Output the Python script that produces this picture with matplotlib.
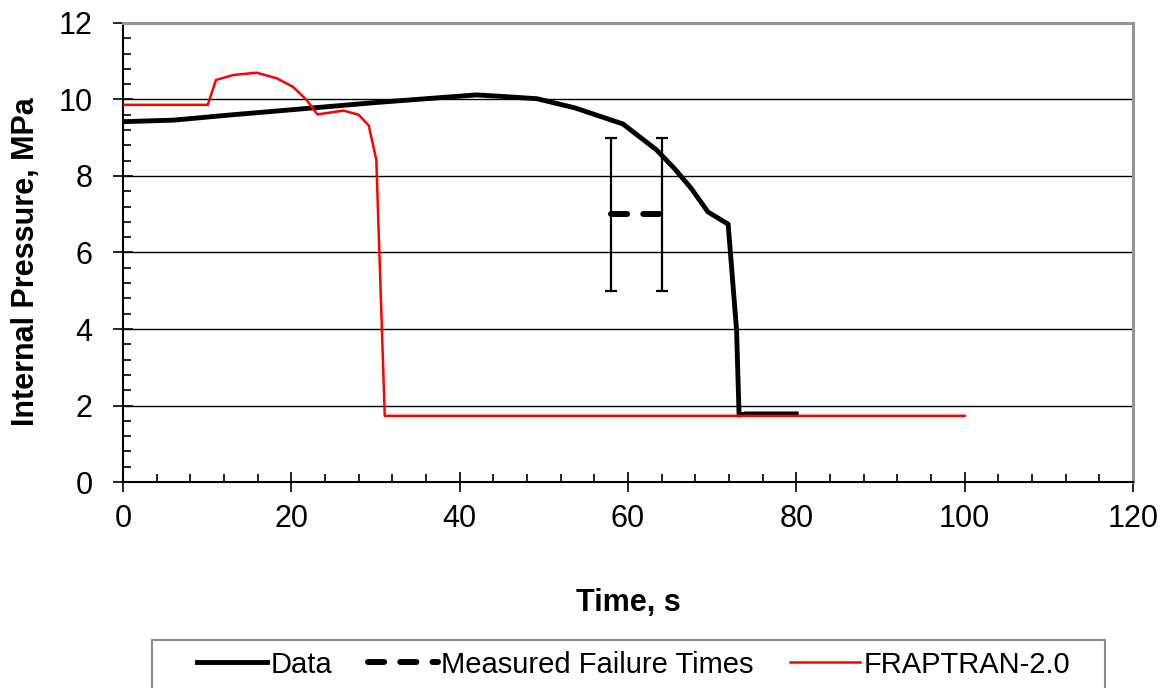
import numpy as np
import matplotlib.pyplot as plt
from matplotlib.ticker import MultipleLocator
from matplotlib.patches import Rectangle

plt.rcParams['font.family'] = ['Liberation Sans', 'DejaVu Sans']

# --------------------------------------------
# DATA
# --------------------------------------------

data_t = [0, 6, 13, 22.6, 30, 36, 42, 45, 49.2, 53.7, 59.4, 63.4, 65.5, 67.5, 69.5, 71.9, 72.9, 73.2, 74, 80]
data_p = [9.42, 9.46, 9.6, 9.78, 9.92, 10.02, 10.12, 10.08, 10.02, 9.78, 9.36, 8.68, 8.2, 7.68, 7.06, 6.74, 3.97, 1.75, 1.78, 1.78]

frap_t = [0, 10.07, 11.05, 13.1, 15.9, 18.3, 20.2, 21.8, 23.1, 26.2, 28.0, 29.2, 30.1, 31.1, 100]
frap_p = [9.86, 9.86, 10.51, 10.64, 10.70, 10.55, 10.33, 9.99, 9.61, 9.71, 9.6, 9.32, 8.42, 1.73, 1.73]

fail_t = [58, 64]
fail_p = [7, 7]
fail_err = [2, 2]

# --------------------------------------------
# PLOT
# --------------------------------------------

fig = plt.figure(figsize=(11.69, 6.88), dpi=100)
ax = fig.add_axes([0.1052, 0.2994, 0.864, 0.6672])

ax.plot(data_t, data_p, color="black", lw=3.5, label="Data", zorder=4)
ax.errorbar(fail_t, fail_p, yerr=fail_err, fmt="none", ecolor="black",
            elinewidth=1.6, capsize=4.5, capthick=1.6, zorder=3)
ax.plot(fail_t, fail_p, color="black", lw=4.3, dashes=(2.7, 2.7),
        dash_capstyle="round", label="Measured Failure Times", zorder=3)
ax.plot(frap_t, frap_p, color="red", lw=1.8, label="FRAPTRAN-2.0", zorder=5)

ax.set_xlim(0, 120)
ax.set_ylim(0, 12)
ax.xaxis.set_major_locator(MultipleLocator(20))
ax.xaxis.set_minor_locator(MultipleLocator(4))
ax.yaxis.set_major_locator(MultipleLocator(2))
ax.yaxis.set_minor_locator(MultipleLocator(0.4))

ax.grid(axis="y", which="major", color="black", lw=1)
ax.set_axisbelow(True)

ax.tick_params(which="major", direction="inout", length=14, width=1.2,
               labelsize=22, color="black")
ax.tick_params(axis="x", which="major", pad=9)
ax.tick_params(axis="y", which="major", pad=15)
ax.tick_params(which="minor", direction="in", length=6, width=1.2, color="black")

for s in ["left", "bottom"]:
    ax.spines[s].set_color("black")
    ax.spines[s].set_linewidth(1.5)
for s in ["top", "right"]:
    ax.spines[s].set_color("#949494")
    ax.spines[s].set_linewidth(2.2)

ax.set_xlabel("Time, s", fontsize=22, fontweight="bold")
ax.set_ylabel("Internal Pressure, MPa", fontsize=22, fontweight="bold")
ax.xaxis.set_label_coords(0.5, -0.231)
ax.yaxis.set_label_coords(-0.081, 0.48)

# legend box (runs off the bottom edge like the original)
fig.patches.append(Rectangle((152 / 1169, -0.05), 953 / 1169, 0.05 + 48 / 688,
                             transform=fig.transFigure, facecolor="white",
                             edgecolor="#8c8c8c", lw=1.5, zorder=0))

leg = fig.legend(loc="upper center", bbox_to_anchor=(0.542, 1 - 636 / 688),
                 ncol=3, fontsize=21, frameon=False, borderpad=0.5,
                 handlelength=2.4, handletextpad=0.1, columnspacing=1.25,
                 borderaxespad=0)

plt.savefig("out.png", dpi=100)
